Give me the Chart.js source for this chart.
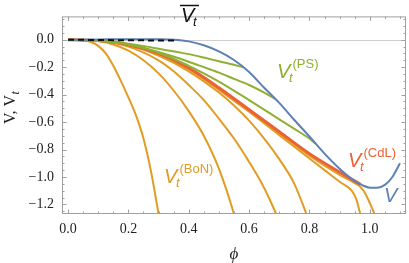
<!DOCTYPE html>
<html>
<head>
<meta charset="utf-8">
<script src="https://cdn.jsdelivr.net/npm/chart.js@4"></script>
<style>
  html, body { margin: 0; padding: 0; background: #fff; }
</style>
</head>
<body>
<canvas id="chart" width="409" height="263"></canvas>
<script>
// potential V
const vPhi = [0, 0.1, 0.2, 0.3, 0.35, 0.4, 0.45, 0.5, 0.55, 0.6, 0.65, 0.7, 0.75, 0.8, 0.85, 0.9, 0.95, 0.975, 1.0, 1.025, 1.05, 1.075, 1.1];
const vVal = [0, 0.002, 0.004, 0.003, 0.0, -0.012, -0.04, -0.085, -0.148, -0.235, -0.35, -0.46, -0.585, -0.705, -0.83, -0.94, -1.03, -1.06, -1.078, -1.078, -1.058, -1.0, -0.9];

// V-bar_t (dashed)
const vbPhi = [0, 0.1, 0.2, 0.3, 0.365];
const vbVal = [0, -0.002, -0.004, -0.005, -0.005];

// V_t^(PS)
const g1Phi = [0, 0.1, 0.2, 0.3, 0.4, 0.45, 0.5, 0.55, 0.58];
const g1Val = [0, -0.007, -0.03, -0.065, -0.105, -0.13, -0.157, -0.183, -0.2];
const g2Phi = [0, 0.1, 0.2, 0.3, 0.4, 0.45, 0.5, 0.55, 0.6, 0.65, 0.688];
const g2Val = [0, -0.008, -0.035, -0.09, -0.16, -0.2, -0.24, -0.285, -0.33, -0.385, -0.434];
const g3Phi = [0, 0.1, 0.2, 0.3, 0.4, 0.45, 0.5, 0.6, 0.7, 0.75, 0.8, 0.822];
const g3Val = [0, -0.006, -0.033, -0.095, -0.19, -0.245, -0.305, -0.44, -0.58, -0.65, -0.72, -0.76];

// V_t^(CdL)
const rPhi = [0, 0.1, 0.2, 0.3, 0.4, 0.5, 0.6, 0.7, 0.8, 0.9, 0.97];
const rVal = [0, -0.006, -0.036, -0.1, -0.205, -0.35, -0.51, -0.67, -0.83, -0.965, -1.055];

// V_t^(BoN) family
const o1Phi = [0, 0.05, 0.08, 0.1, 0.125, 0.15, 0.175, 0.2, 0.225, 0.25, 0.275, 0.3, 0.31];
const o1Val = [0, -0.004, -0.02, -0.045, -0.1, -0.19, -0.3, -0.42, -0.55, -0.72, -0.96, -1.27, -1.4];
const o2Phi = [0, 0.1, 0.15, 0.2, 0.25, 0.3, 0.35, 0.4, 0.45, 0.5, 0.55, 0.56];
const o2Val = [0, -0.012, -0.035, -0.08, -0.15, -0.245, -0.37, -0.52, -0.7, -0.94, -1.27, -1.35];
const o3Phi = [0, 0.1, 0.2, 0.3, 0.35, 0.4, 0.45, 0.5, 0.55, 0.6, 0.65, 0.69, 0.7];
const o3Val = [0, -0.008, -0.05, -0.15, -0.23, -0.33, -0.44, -0.575, -0.72, -0.89, -1.08, -1.27, -1.32];
const o4Phi = [0, 0.1, 0.2, 0.3, 0.4, 0.5, 0.55, 0.6, 0.65, 0.7, 0.75, 0.79, 0.8];
const o4Val = [0, -0.007, -0.04, -0.115, -0.23, -0.385, -0.48, -0.59, -0.72, -0.87, -1.05, -1.27, -1.33];
const o5Phi = [0, 0.1, 0.2, 0.3, 0.4, 0.5, 0.6, 0.7, 0.8, 0.85, 0.9, 0.94, 0.955, 0.965, 0.972];
const o5Val = [0, -0.006, -0.037, -0.105, -0.215, -0.365, -0.525, -0.695, -0.865, -0.95, -1.035, -1.1, -1.16, -1.24, -1.3];
const o6Phi = [0, 0.1, 0.2, 0.3, 0.4, 0.5, 0.6, 0.7, 0.8, 0.9, 0.95, 0.97, 0.985, 1.0, 1.01, 1.02];
const o6Val = [0, -0.006, -0.036, -0.102, -0.21, -0.357, -0.517, -0.68, -0.845, -0.985, -1.045, -1.075, -1.12, -1.19, -1.24, -1.3];

const xTicks = [0, 0.2, 0.4, 0.6, 0.8, 1.0];
const yTicks = [-1.2, -1.0, -0.8, -0.6, -0.4, -0.2, 0];

const BLUE = '#5e81b5', ORANGE = '#e19c24', GREEN = '#8fb032', RED = '#eb6235';

const pts = (xs, ys) => xs.map((x, i) => ({ x: x, y: ys[i] }));
const fmt = v => (v < -1e-9 ? '\u2212' : '') + Math.abs(v).toFixed(1);

function line(data, color, width, order, extra) {
  return Object.assign({
    data: data, borderColor: color, borderWidth: width, pointRadius: 0,
    showLine: true, fill: false, cubicInterpolationMode: 'monotone', order: order, clip: 0
  }, extra || {});
}

// frame, ticks, zero line, annotations
const decor = {
  id: 'decor',
  beforeDatasetsDraw(chart) {
    const { ctx, chartArea: a, scales: { y } } = chart;
    const y0 = Math.round(y.getPixelForValue(0)) + 0.5;
    ctx.save();
    ctx.strokeStyle = '#cfcfcf';
    ctx.lineWidth = 1;
    ctx.beginPath();
    ctx.moveTo(a.left, y0);
    ctx.lineTo(a.right, y0);
    ctx.stroke();
    ctx.restore();
  },
  afterDraw(chart) {
    const { ctx, chartArea: a, scales: { x, y } } = chart;
    ctx.save();
    ctx.strokeStyle = '#a0a0a0';
    ctx.lineWidth = 1;
    ctx.strokeRect(a.left + 0.5, a.top + 0.5, a.right - a.left - 1, a.bottom - a.top - 1);
    ctx.beginPath();
    for (let k = 0; k <= 22; k++) {
      const v = k * 0.05;
      const len = k % 4 === 0 ? 4.5 : 2.5;
      const px = Math.round(x.getPixelForValue(v)) + 0.5;
      ctx.moveTo(px, a.bottom); ctx.lineTo(px, a.bottom - len);
      ctx.moveTo(px, a.top); ctx.lineTo(px, a.top + len);
    }
    for (let k = -25; k <= 3; k++) {
      const v = k * 0.05;
      const len = k % 4 === 0 ? 4.5 : 2.5;
      const py = Math.round(y.getPixelForValue(v)) + 0.5;
      ctx.moveTo(a.left, py); ctx.lineTo(a.left + len, py);
      ctx.moveTo(a.right, py); ctx.lineTo(a.right - len, py);
    }
    ctx.stroke();

    ctx.textBaseline = 'alphabetic';
    ctx.textAlign = 'left';
    const vt = (x0, y0, sup, color) => {
      ctx.fillStyle = color;
      ctx.font = 'italic 20px "Liberation Sans"';
      ctx.fillText('V', x0, y0);
      ctx.font = 'italic 13px "Liberation Sans"';
      ctx.fillText('t', x0 + 12, y0 + 3.5);
      if (sup) {
        ctx.font = '13px "Liberation Sans"';
        ctx.fillText(sup, x0 + 15.5, y0 - 10.5);
      }
    };
    vt(164, 183, '(BoN)', ORANGE);
    vt(277, 78, '(PS)', GREEN);
    vt(348, 167, '(CdL)', RED);
    vt(181, 22, '', '#111');
    ctx.strokeStyle = '#111';
    ctx.lineWidth = 1.5;
    ctx.beginPath();
    ctx.moveTo(180, 5.5); ctx.lineTo(199, 5.5);
    ctx.stroke();
    ctx.fillStyle = BLUE;
    ctx.font = 'italic 20px "Liberation Sans"';
    ctx.fillText('V', 384, 202);

    // axis titles
    ctx.fillStyle = '#222';
    ctx.font = 'italic 17px "Liberation Serif"';
    ctx.textAlign = 'center';
    ctx.fillText('\u03d5', (a.left + a.right) / 2, 259);
    ctx.save();
    ctx.translate(15, 124);
    ctx.rotate(-Math.PI / 2);
    ctx.textAlign = 'left';
    ctx.font = '16px "Liberation Serif"';
    ctx.fillText('V, V', 0, 0);
    const w = ctx.measureText('V, V').width;
    ctx.font = 'italic 12px "Liberation Serif"';
    ctx.fillText('t', w + 0.5, 3.5);
    ctx.restore();
    ctx.restore();
  }
};

const tickFont = { family: 'Liberation Serif', size: 14 };

new Chart(document.getElementById('chart').getContext('2d'), {
  type: 'scatter',
  data: {
    datasets: [
      line(pts(vbPhi, vbVal), '#111', 2, 0, { borderDash: [6, 4] }),
      line(pts(vPhi, vVal), BLUE, 2, 1),
      line(pts(g1Phi, g1Val), GREEN, 2, 2),
      line(pts(g2Phi, g2Val), GREEN, 2, 2),
      line(pts(g3Phi, g3Val), GREEN, 2, 2),
      line(pts(rPhi, rVal), RED, 3, 3),
      line(pts(o1Phi, o1Val), ORANGE, 2, 4),
      line(pts(o2Phi, o2Val), ORANGE, 2, 4),
      line(pts(o3Phi, o3Val), ORANGE, 2, 4),
      line(pts(o4Phi, o4Val), ORANGE, 2, 4),
      line(pts(o5Phi, o5Val), ORANGE, 2, 4),
      line(pts(o6Phi, o6Val), ORANGE, 2, 4)
    ]
  },
  options: {
    responsive: false,
    animation: false,
    devicePixelRatio: 1,
    layout: { padding: { top: 1, right: 3, left: 0, bottom: 0 } },
    plugins: { legend: { display: false }, tooltip: { enabled: false } },
    scales: {
      x: {
        type: 'linear', min: -0.02, max: 1.12,
        grid: { display: false, drawTicks: false },
        border: { display: false },
        afterBuildTicks: s => { s.ticks = xTicks.map(v => ({ value: v })); },
        afterFit: s => { s.height = 49; },
        ticks: { padding: 7, color: '#222', font: tickFont, maxRotation: 0, autoSkip: false, callback: v => fmt(v) }
      },
      y: {
        type: 'linear', min: -1.27, max: 0.17,
        grid: { display: false, drawTicks: false },
        border: { display: false },
        afterBuildTicks: s => { s.ticks = yTicks.map(v => ({ value: v })); },
        afterFit: s => { s.width = 62; },
        ticks: { padding: 8, color: '#222', font: tickFont, autoSkip: false, callback: v => fmt(v) }
      }
    }
  },
  plugins: [decor]
});
</script>
</body>
</html>
